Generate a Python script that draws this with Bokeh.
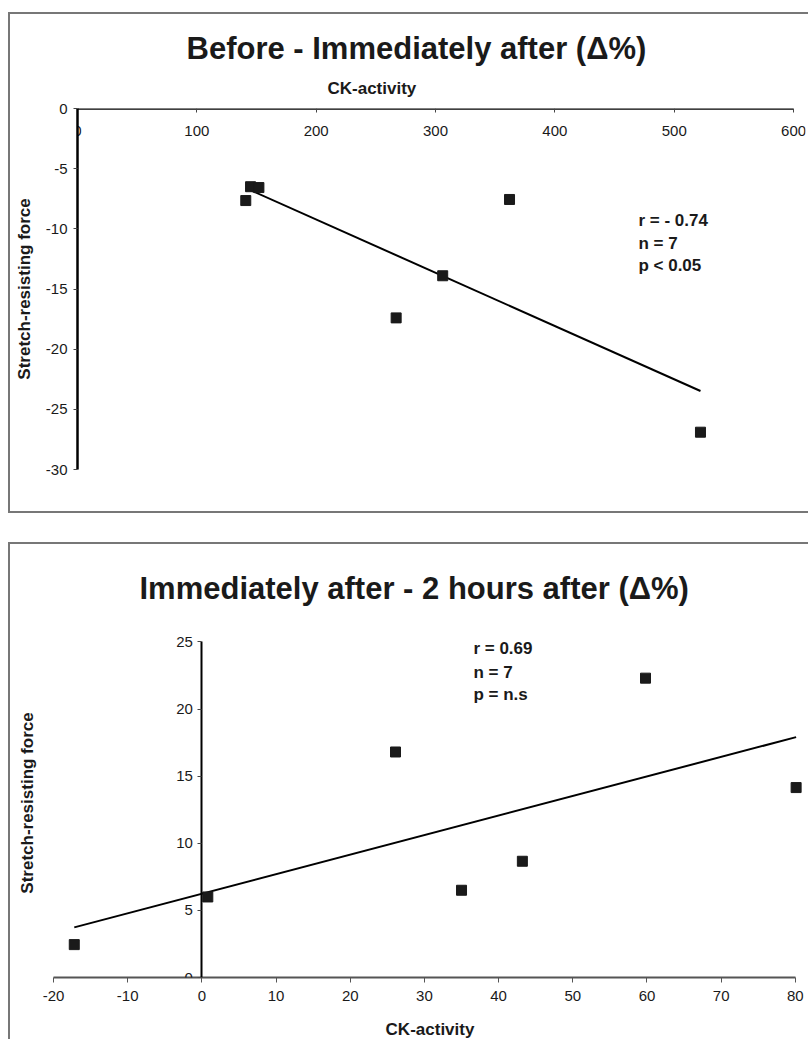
import numpy as np
from bokeh.plotting import figure
from bokeh.models import Title, LinearAxis, FixedTicker, Range1d, NumeralTickFormatter
from bokeh.embed import file_html
from bokeh.resources import INLINE
from bokeh.core.properties import value

# ---------- data: chart 1 (Before - Immediately after) ----------
ck1 = [141, 145, 152, 362, 306, 267, 522]
force1 = [-7.65, -6.5, -6.57, -7.56, -13.9, -17.4, -26.9]
x_ticks1 = [0, 100, 200, 300, 400, 500, 600]
y_ticks1 = [0, -5, -10, -15, -20, -25, -30]
stats1 = ["r = - 0.74", "n = 7", "p < 0.05"]

# ---------- data: chart 2 (Immediately after - 2 hours after) ----------
ck2 = [-17.2, 0.8, 26.1, 35.0, 43.2, 59.8, 80.1]
force2 = [2.45, 6.0, 16.8, 6.5, 8.66, 22.3, 14.15]
x_ticks2 = [-20, -10, 0, 10, 20, 30, 40, 50, 60, 70, 80]
y_ticks2 = [0, 5, 10, 15, 20, 25]
stats2 = ["r = 0.69", "n = 7", "p = n.s"]

FONT = "'Liberation Sans', Arial, sans-serif"
INK = "#1a1a1a"
BORDER = "2px solid #777"


def style_axis(ax, line_color, line_width, tick_out, standoff):
    ax.axis_line_color = line_color
    ax.axis_line_width = line_width
    ax.major_tick_in = 0
    ax.major_tick_out = tick_out
    ax.major_tick_line_color = "#444"
    ax.minor_tick_line_color = None
    ax.major_label_standoff = standoff
    ax.major_label_text_font = FONT
    ax.major_label_text_font_size = "15px"
    ax.major_label_text_color = INK
    ax.formatter = NumeralTickFormatter(format="0")


# ================= chart 1 =================
p1 = figure(width=800, height=501, x_range=Range1d(0, 610), y_range=Range1d(-30, 0),
            output_backend="svg", toolbar_location=None,
            min_border_left=67, min_border_right=5, min_border_top=94, min_border_bottom=46,
            styles={"border-left": BORDER, "border-top": BORDER, "border-bottom": BORDER})
p1.margin = (12, 0, 0, 8)
p1.grid.visible = False
p1.outline_line_color = None

xa = p1.xaxis[0]
xa.fixed_location = 0
xa.bounds = (0, 600)
xa.ticker = FixedTicker(ticks=x_ticks1)
style_axis(xa, "black", 2.5, 4, 13)

ya = p1.yaxis[0]
ya.ticker = FixedTicker(ticks=y_ticks1)
style_axis(ya, "black", 2.5, 4, 6)
ya.axis_label = "Stretch-resisting force"
ya.axis_label_text_font = FONT
ya.axis_label_text_font_style = "bold"
ya.axis_label_text_font_size = "17px"
ya.axis_label_text_color = INK
ya.axis_label_standoff = 9

p1.add_layout(Title(text="CK-activity", align="left", offset=250, standoff=21,
                    text_font=FONT, text_font_size="17px", text_font_style="bold",
                    text_color=INK), "above")
p1.add_layout(Title(text="Before - Immediately after (\u0394%)", align="left", offset=109,
                    standoff=1, text_font=FONT, text_font_size="31px",
                    text_font_style="bold", text_color=INK), "above")

c1 = np.polyfit(ck1, force1, 1)
lx1 = [min(ck1), max(ck1)]
p1.line(lx1, list(np.polyval(c1, lx1)), line_color="black", line_width=2)
p1.scatter(ck1, force1, marker="square", size=10, fill_color=INK, line_color=INK)
p1.text(x=[470] * 3, y=[-9.3, -11.2, -13.05], text=stats1,
        text_font=value(FONT), text_font_size="17px", text_font_style="bold",
        text_color=INK, text_baseline="middle", text_align="left")

# ================= chart 2 =================
p2 = figure(width=800, height=497, x_range=Range1d(-20, 81.5), y_range=Range1d(0, 26),
            output_backend="svg", toolbar_location=None,
            min_border_left=43, min_border_right=4, min_border_top=84, min_border_bottom=64,
            styles={"border-left": BORDER, "border-top": BORDER})
p2.margin = (29, 0, 0, 8)
p2.grid.visible = False
p2.outline_line_color = None

xb = p2.xaxis[0]
xb.ticker = FixedTicker(ticks=x_ticks2)
xb.bounds = (-20, 80)
style_axis(xb, "#555", 2, 5, 8)
xb.major_tick_line_color = "#555"
xb.axis_label = "CK-activity"
xb.axis_label_text_font = FONT
xb.axis_label_text_font_style = "bold"
xb.axis_label_text_font_size = "17px"
xb.axis_label_text_color = INK
xb.axis_label_standoff = 16

yb = p2.yaxis[0]
yb.fixed_location = 0
yb.bounds = (0, 25)
yb.ticker = FixedTicker(ticks=y_ticks2)
style_axis(yb, "black", 2, 4, 5)

lab = LinearAxis(ticker=FixedTicker(ticks=[]), axis_line_color=None,
                 major_tick_line_color=None, minor_tick_line_color=None,
                 major_tick_out=0, major_label_standoff=0,
                 axis_label="Stretch-resisting force", axis_label_text_font=FONT,
                 axis_label_text_font_style="bold", axis_label_text_font_size="17px",
                 axis_label_text_color=INK, axis_label_standoff=17)
p2.add_layout(lab, "left")

p2.add_layout(Title(text="Immediately after - 2 hours after (\u0394%)", align="left",
                    offset=86, standoff=46, text_font=FONT, text_font_size="31px",
                    text_font_style="bold", text_color=INK), "above")

c2 = np.polyfit(ck2, force2, 1)
lx2 = [min(ck2), max(ck2)]
p2.line(lx2, list(np.polyval(c2, lx2)), line_color="black", line_width=2)
p2.scatter(ck2, force2, marker="square", size=10, fill_color=INK, line_color=INK)
p2.text(x=[36.6] * 3, y=[24.5, 22.7, 21.1], text=stats2,
        text_font=value(FONT), text_font_size="17px", text_font_style="bold",
        text_color=INK, text_baseline="middle", text_align="left")

open("out.html", "w").write(file_html([p1, p2], INLINE))
